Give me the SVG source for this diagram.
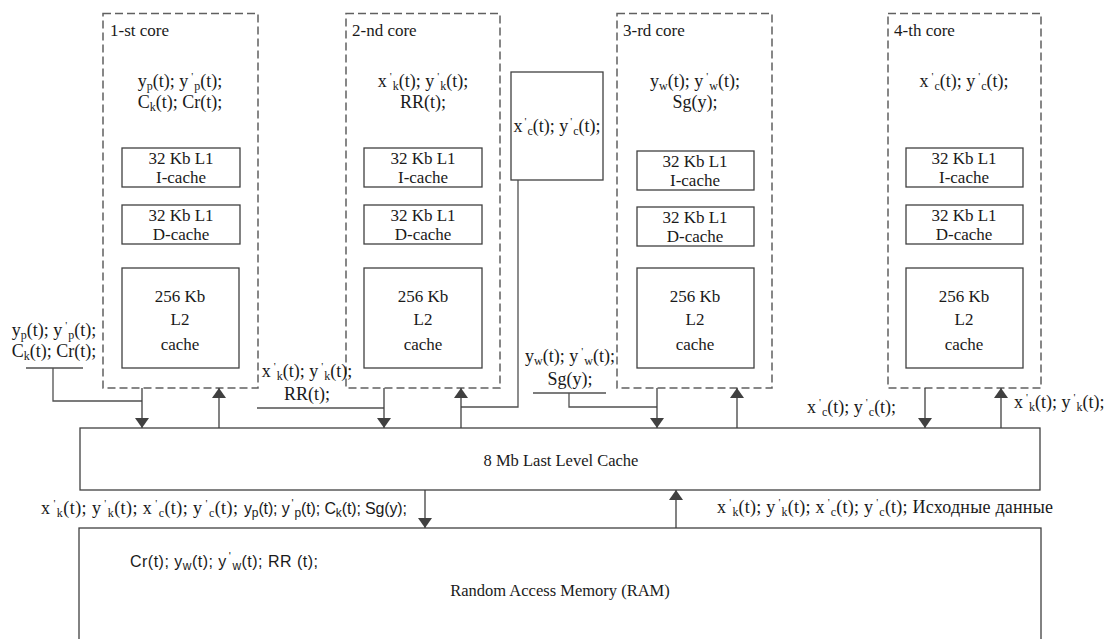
<svg xmlns="http://www.w3.org/2000/svg" width="1111" height="639" viewBox="0 0 1111 639">
<style>
  text { font-family: "Liberation Serif", "Times New Roman", serif; font-size: 17px; fill: #1a1a1a; }
  .f { font-size: 18px; }
  .big { font-size: 16.5px; }
  .sans { font-family: "Liberation Sans", Arial, sans-serif; font-size: 16px; }
  .c { text-anchor: middle; }
  .s { font-size: 12px; baseline-shift: -3px; }
  .p { font-size: 11px; baseline-shift: 7px; }
  .core { fill: none; stroke: #606060; stroke-width: 1.5; stroke-dasharray: 8 4; }
  .box { fill: #ffffff; stroke: #404040; stroke-width: 1.3; }
  .ln { fill: none; stroke: #505050; stroke-width: 1.3; }
  .ar { fill: none; stroke: #404040; stroke-width: 1.3; marker-end: url(#ah); }
</style>
<defs>
  <marker id="ah" viewBox="0 0 10 16" refX="10" refY="8" markerWidth="10" markerHeight="16" markerUnits="userSpaceOnUse" orient="auto">
    <path d="M0,1 L10,8 L0,15 Z" fill="#404040"/>
  </marker>
</defs>
<rect width="1111" height="639" fill="#ffffff"/>

<g id="core1">
  <rect class="core" x="103" y="13.5" width="155" height="374.5"/>
  <text x="110" y="36">1-st core</text>
  <text class="c f" x="180" y="87">y<tspan class="s">p</tspan>(t); y<tspan class="p" dx="3">'</tspan><tspan class="s" dx="1">p</tspan>(t);</text>
  <text class="c f" x="180" y="108">C<tspan class="s">k</tspan>(t); Cr(t);</text>
  <rect class="box" x="122" y="148" width="118" height="39"/>
  <text class="c" x="181" y="164">32 Kb L1</text>
  <text class="c" x="181" y="183">I-cache</text>
  <rect class="box" x="122" y="205" width="118" height="39"/>
  <text class="c" x="181" y="221">32 Kb L1</text>
  <text class="c" x="181" y="240">D-cache</text>
  <rect class="box" x="122" y="268" width="117" height="100"/>
  <text class="c" x="180" y="302">256 Kb</text>
  <text class="c" x="180" y="325">L2</text>
  <text class="c" x="180" y="350">cache</text>
</g>

<g id="core2">
  <rect class="core" x="346" y="13.5" width="154" height="374.5"/>
  <text x="352" y="36">2-nd core</text>
  <text class="c f" x="423" y="87">x<tspan class="p" dx="3">'</tspan><tspan class="s" dx="1">k</tspan>(t); y<tspan class="p" dx="3">'</tspan><tspan class="s" dx="1">k</tspan>(t);</text>
  <text class="c f" x="423" y="108">RR(t);</text>
  <rect class="box" x="364" y="148" width="118" height="39"/>
  <text class="c" x="423" y="164">32 Kb L1</text>
  <text class="c" x="423" y="183">I-cache</text>
  <rect class="box" x="364" y="205" width="118" height="39"/>
  <text class="c" x="423" y="221">32 Kb L1</text>
  <text class="c" x="423" y="240">D-cache</text>
  <rect class="box" x="364" y="268" width="118" height="100"/>
  <text class="c" x="423" y="302">256 Kb</text>
  <text class="c" x="423" y="325">L2</text>
  <text class="c" x="423" y="350">cache</text>
</g>

<g id="shared-xc">
  <rect class="box" x="511" y="72" width="92" height="108"/>
  <text class="c f" x="557" y="132">x<tspan class="p" dx="2">'</tspan><tspan class="s" dx="1">c</tspan>(t); y<tspan class="p" dx="2">'</tspan><tspan class="s" dx="1">c</tspan>(t);</text>
</g>

<g id="core3">
  <rect class="core" x="617" y="13.5" width="155" height="374.5"/>
  <text x="623" y="36">3-rd core</text>
  <text class="c f" x="695" y="87">y<tspan class="s">w</tspan>(t); y<tspan class="p" dx="3">'</tspan><tspan class="s" dx="1">w</tspan>(t);</text>
  <text class="c f" x="695" y="108">Sg(y);</text>
  <rect class="box" x="637" y="151" width="117" height="39"/>
  <text class="c" x="695" y="167">32 Kb L1</text>
  <text class="c" x="695" y="186">I-cache</text>
  <rect class="box" x="637" y="207" width="117" height="39"/>
  <text class="c" x="695" y="223">32 Kb L1</text>
  <text class="c" x="695" y="242">D-cache</text>
  <rect class="box" x="637" y="268" width="117" height="100"/>
  <text class="c" x="695" y="302">256 Kb</text>
  <text class="c" x="695" y="325">L2</text>
  <text class="c" x="695" y="350">cache</text>
</g>

<g id="core4">
  <rect class="core" x="888" y="13.5" width="153" height="374.5"/>
  <text x="894" y="36">4-th core</text>
  <text class="c f" x="964" y="87">x<tspan class="p" dx="3">'</tspan><tspan class="s" dx="1">c</tspan>(t); y<tspan class="p" dx="3">'</tspan><tspan class="s" dx="1">c</tspan>(t);</text>
  <rect class="box" x="906" y="148" width="117" height="39"/>
  <text class="c" x="964" y="164">32 Kb L1</text>
  <text class="c" x="964" y="183">I-cache</text>
  <rect class="box" x="906" y="205" width="117" height="39"/>
  <text class="c" x="964" y="221">32 Kb L1</text>
  <text class="c" x="964" y="240">D-cache</text>
  <rect class="box" x="906" y="268" width="117" height="100"/>
  <text class="c" x="964" y="302">256 Kb</text>
  <text class="c" x="964" y="325">L2</text>
  <text class="c" x="964" y="350">cache</text>
</g>

<g id="llc">
  <rect class="box" x="80" y="428" width="960" height="62"/>
  <text class="c big" x="561" y="466">8 Mb Last Level Cache</text>
</g>

<g id="ram">
  <rect class="box" x="79" y="528" width="962" height="130"/>
  <text class="sans" x="130" y="567" textLength="188" lengthAdjust="spacing">Cr(t); y<tspan class="s">w</tspan>(t); y<tspan class="p" dx="2">'</tspan><tspan class="s" dx="1">w</tspan>(t);  RR (t);</text>
  <text class="c big" x="560" y="596">Random Access Memory (RAM)</text>
</g>

<g id="connectors">
  <line class="ln" x1="26" y1="368" x2="83" y2="368"/>
  <polyline class="ln" points="53,368 53,401 142,401"/>
  <line class="ar" x1="142" y1="388" x2="142" y2="428"/>
  <line class="ar" x1="219" y1="428" x2="219" y2="388"/>

  <line class="ln" x1="257" y1="408" x2="384" y2="408"/>
  <line class="ar" x1="384" y1="388" x2="384" y2="428"/>
  <polyline class="ln" points="518,180 518,407 461,407"/>
  <line class="ar" x1="461" y1="428" x2="461" y2="388"/>

  <line class="ln" x1="533" y1="393" x2="606" y2="393"/>
  <polyline class="ln" points="569,393 569,407 657,407"/>
  <line class="ar" x1="657" y1="388" x2="657" y2="428"/>
  <line class="ar" x1="737" y1="428" x2="737" y2="388"/>

  <line class="ar" x1="925" y1="388" x2="925" y2="428"/>
  <line class="ar" x1="1001" y1="428" x2="1001" y2="388"/>

  <line class="ar" x1="425" y1="490" x2="425" y2="528"/>
  <line class="ar" x1="676" y1="528" x2="676" y2="490"/>
</g>

<g id="labels">
  <text class="c f" x="54" y="336">y<tspan class="s">p</tspan>(t); y<tspan class="p" dx="3">'</tspan><tspan class="s" dx="1">p</tspan>(t);</text>
  <text class="c f" x="54" y="357">C<tspan class="s">k</tspan>(t); Cr(t);</text>

  <text class="c f" x="307" y="377">x<tspan class="p" dx="3">'</tspan><tspan class="s" dx="1">k</tspan>(t); y<tspan class="p" dx="3">'</tspan><tspan class="s" dx="1">k</tspan>(t);</text>
  <text class="c f" x="307" y="400">RR(t);</text>

  <text class="c f" x="570" y="362">y<tspan class="s">w</tspan>(t); y<tspan class="p" dx="3">'</tspan><tspan class="s" dx="1">w</tspan>(t);</text>
  <text class="c f" x="570" y="385">Sg(y);</text>

  <text class="f" x="807" y="413">x<tspan class="p" dx="3">'</tspan><tspan class="s" dx="1">c</tspan>(t); y<tspan class="p" dx="3">'</tspan><tspan class="s" dx="1">c</tspan>(t);</text>
  <text class="f" x="1014" y="408">x<tspan class="p" dx="3">'</tspan><tspan class="s" dx="1">k</tspan>(t); y<tspan class="p" dx="3">'</tspan><tspan class="s" dx="1">k</tspan>(t);</text>

  <text class="f" x="41" y="514" textLength="197" lengthAdjust="spacing">x<tspan class="p" dx="3">'</tspan><tspan class="s" dx="1">k</tspan>(t); y<tspan class="p" dx="3">'</tspan><tspan class="s" dx="1">k</tspan>(t); x<tspan class="p" dx="3">'</tspan><tspan class="s" dx="1">c</tspan>(t); y<tspan class="p" dx="3">'</tspan><tspan class="s" dx="1">c</tspan>(t);</text>
  <text class="sans" x="244" y="514" textLength="163" lengthAdjust="spacing">y<tspan class="s">p</tspan>(t); y<tspan class="p" dx="2">'</tspan><tspan class="s" dx="1">p</tspan>(t); C<tspan class="s">k</tspan>(t); Sg(y);</text>

  <text class="f" x="717" y="513" textLength="336" lengthAdjust="spacing">x<tspan class="p" dx="3">'</tspan><tspan class="s" dx="1">k</tspan>(t); y<tspan class="p" dx="3">'</tspan><tspan class="s" dx="1">k</tspan>(t); x<tspan class="p" dx="3">'</tspan><tspan class="s" dx="1">c</tspan>(t); y<tspan class="p" dx="3">'</tspan><tspan class="s" dx="1">c</tspan>(t); Исходные данные</text>
</g>
</svg>
